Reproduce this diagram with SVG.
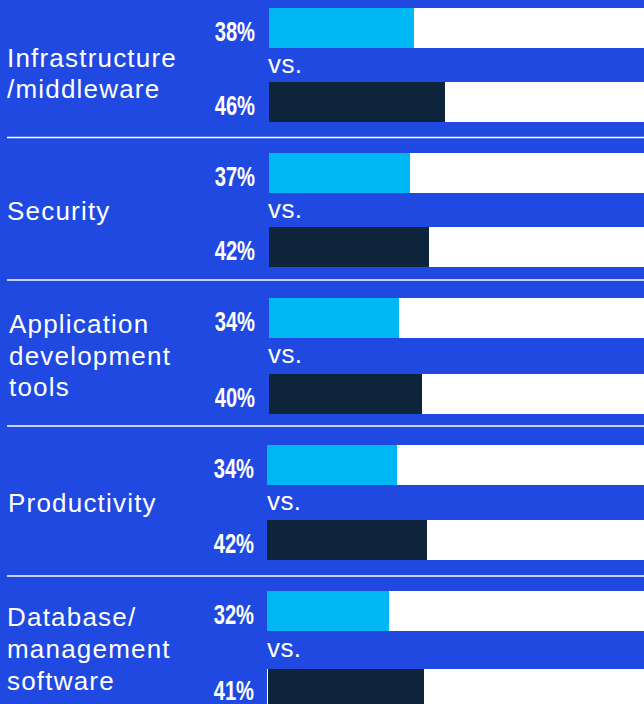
<svg xmlns="http://www.w3.org/2000/svg" width="644" height="704" viewBox="0 0 644 704">
<style>
.lbl{font-family:"Liberation Sans",Arial,sans-serif;font-size:26px;fill:#ffffff;letter-spacing:1.2px}
.vs{font-family:"Liberation Sans",Arial,sans-serif;font-size:26px;fill:#ffffff;letter-spacing:0.4px}
.pct{font-family:"Liberation Sans",Arial,sans-serif;font-size:28px;font-weight:bold;fill:#ffffff;text-anchor:end}
.track{fill:#ffffff}
.lt{fill:#00b7f5}
.dk{fill:#0e243b}
.sep{stroke:#ffffff;stroke-width:1.5}
</style>
<rect x="0" y="0" width="644" height="704" fill="#1f49e0"/>

<g id="infrastructure">
<text class="lbl" x="7" y="67">Infrastructure</text>
<text class="lbl" x="7" y="98">/middleware</text>
<rect class="track" x="269" y="8" width="375" height="40"/>
<rect class="lt" x="269" y="8" width="145" height="40"/>
<rect class="track" x="269" y="82" width="375" height="40"/>
<rect class="dk" x="269" y="82" width="176" height="40"/>
<text class="pct" transform="translate(255 40.5) scale(0.72 1)">38%</text>
<text class="pct" transform="translate(255 114.5) scale(0.72 1)">46%</text>
<text class="vs" x="268" y="72.5">vs.</text>
</g>

<g id="security">
<text class="lbl" x="7" y="220">Security</text>
<rect class="track" x="269" y="153" width="375" height="40"/>
<rect class="lt" x="269" y="153" width="141" height="40"/>
<rect class="track" x="269" y="227" width="375" height="40"/>
<rect class="dk" x="269" y="227" width="160" height="40"/>
<text class="pct" transform="translate(255 185.5) scale(0.72 1)">37%</text>
<text class="pct" transform="translate(255 259.5) scale(0.72 1)">42%</text>
<text class="vs" x="268" y="217.5">vs.</text>
</g>

<g id="appdev">
<text class="lbl" x="9" y="333">Application</text>
<text class="lbl" x="9" y="365">development</text>
<text class="lbl" x="9" y="396">tools</text>
<rect class="track" x="269" y="298" width="375" height="40"/>
<rect class="lt" x="269" y="298" width="130" height="40"/>
<rect class="track" x="269" y="374" width="375" height="40"/>
<rect class="dk" x="269" y="374" width="153" height="40"/>
<text class="pct" transform="translate(255 330.5) scale(0.72 1)">34%</text>
<text class="pct" transform="translate(255 406.5) scale(0.72 1)">40%</text>
<text class="vs" x="268" y="362.5">vs.</text>
</g>

<g id="productivity">
<text class="lbl" x="8" y="512">Productivity</text>
<rect class="track" x="267" y="445" width="377" height="40"/>
<rect class="lt" x="267" y="445" width="130" height="40"/>
<rect class="track" x="267" y="520" width="377" height="40"/>
<rect class="dk" x="267" y="520" width="160" height="40"/>
<text class="pct" transform="translate(254 477.5) scale(0.72 1)">34%</text>
<text class="pct" transform="translate(254 552.5) scale(0.72 1)">42%</text>
<text class="vs" x="267" y="509.5">vs.</text>
</g>

<g id="database">
<text class="lbl" x="7" y="626">Database/</text>
<text class="lbl" x="7" y="658">management</text>
<text class="lbl" x="7" y="690">software</text>
<rect class="track" x="267" y="591" width="377" height="40"/>
<rect class="lt" x="267" y="591" width="122" height="40"/>
<rect class="track" x="267" y="669" width="377" height="40"/>
<rect class="dk" x="268" y="669" width="156" height="40"/>
<text class="pct" transform="translate(254 623.5) scale(0.72 1)">32%</text>
<text class="pct" transform="translate(254 700) scale(0.72 1)">41%</text>
<text class="vs" x="267" y="657">vs.</text>
</g>

<g id="separators">
<line class="sep" x1="7" y1="137.5" x2="644" y2="137.5"/>
<line class="sep" x1="7" y1="280" x2="644" y2="280"/>
<line class="sep" x1="7" y1="426" x2="644" y2="426"/>
<line class="sep" x1="7" y1="576" x2="644" y2="576"/>
</g>
</svg>
